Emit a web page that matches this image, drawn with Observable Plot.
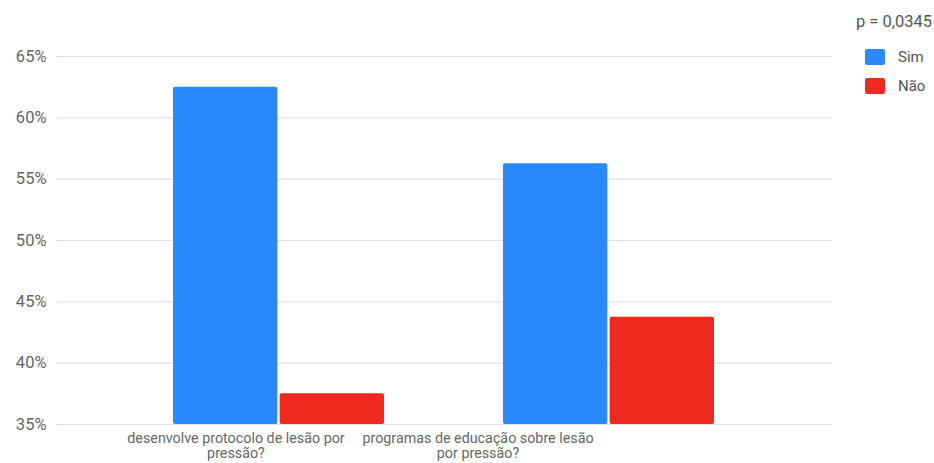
<!DOCTYPE html>
<html>
<head>
<meta charset="utf-8">
<script src="https://cdn.jsdelivr.net/npm/d3@7"></script>
<script src="https://cdn.jsdelivr.net/npm/@observablehq/plot@0.6"></script>
<style>
  html, body { margin: 0; padding: 0; background: #fff; }
  #wrap { position: relative; width: 934px; height: 463px; font-family: Roboto, "Noto Sans", sans-serif; }
  #pval { position: absolute; right: 2px; top: 12px; font-size: 16.5px; color: #555; }
  .leg { position: absolute; left: 865px; font-size: 15px; color: #555; display: flex; align-items: center; }
  .sw { width: 20px; height: 16px; border-radius: 2px; margin-right: 13px; }
</style>
</head>
<body>
<div id="wrap">
  <div id="chart"></div>
  <div id="pval"></div>
  <div class="leg" id="leg0" style="top:48px"></div>
  <div class="leg" id="leg1" style="top:77px"></div>
</div>
<script>
const categories = ["desenvolve protocolo de lesão por pressão?", "programas de educação sobre lesão por pressão?"];
const tickLabels = ["desenvolve protocolo de lesão por\npressão?", "programas de educação sobre lesão\npor pressão?"];
const series = ["Sim", "Não"];
const simValues = [62.5, 56.25];
const naoValues = [37.5, 43.75];
const yTicks = [35, 40, 45, 50, 55, 60, 65];
const pText = "p = 0,0345";
const colors = ["#2a8afc", "#f0291f"];

const sim = categories.map((c, i) => ({cat: c, v: simValues[i]}));
const nao = categories.map((c, i) => ({cat: c, v: naoValues[i]}));
const labels = categories.map((c, i) => ({cat: c, label: tickLabels[i]}));

const bw = 211.3;
const chart = Plot.plot({
  width: 934,
  height: 463,
  marginTop: 56,
  marginBottom: 39,
  marginLeft: 57,
  marginRight: 102,
  style: {fontFamily: "Roboto, sans-serif", background: "#fff"},
  x: {domain: categories, range: [172.7, 714], paddingInner: 0.36, paddingOuter: 0, axis: null},
  y: {domain: [35, 65], ticks: yTicks, tickFormat: d => d + "%", label: null},
  marks: [
    Plot.ruleY(yTicks, {stroke: "#e2e2e2", strokeWidth: 1.2}),
    Plot.axisY({ticks: yTicks, tickFormat: d => d + "%", tickSize: 0, tickPadding: 11, fontSize: 16.5, fill: "#666", label: null}),
    Plot.barY(sim, {x: "cat", y1: 35, y2: "v", fill: colors[0], insetRight: bw / 2 + 1, rx: 2}),
    Plot.barY(nao, {x: "cat", y1: 35, y2: "v", fill: colors[1], insetLeft: bw / 2 + 1, rx: 2}),
    Plot.text(labels.slice(0, 1), {x: "cat", y: 35, text: "label", lineAnchor: "top", dy: 7, dx: -43, fontSize: 14.3, lineHeight: 1.1, fill: "#666"}),
    Plot.text(labels.slice(1, 2), {x: "cat", y: 35, text: "label", lineAnchor: "top", dy: 7, dx: -131, fontSize: 14.3, lineHeight: 1.1, fill: "#666"})
  ]
});
document.getElementById("chart").appendChild(chart);
document.getElementById("pval").textContent = pText;
series.forEach((s, i) => {
  const el = document.getElementById("leg" + i);
  el.innerHTML = `<span class="sw" style="background:${colors[i]}"></span><span>${s}</span>`;
});
</script>
</body>
</html>
